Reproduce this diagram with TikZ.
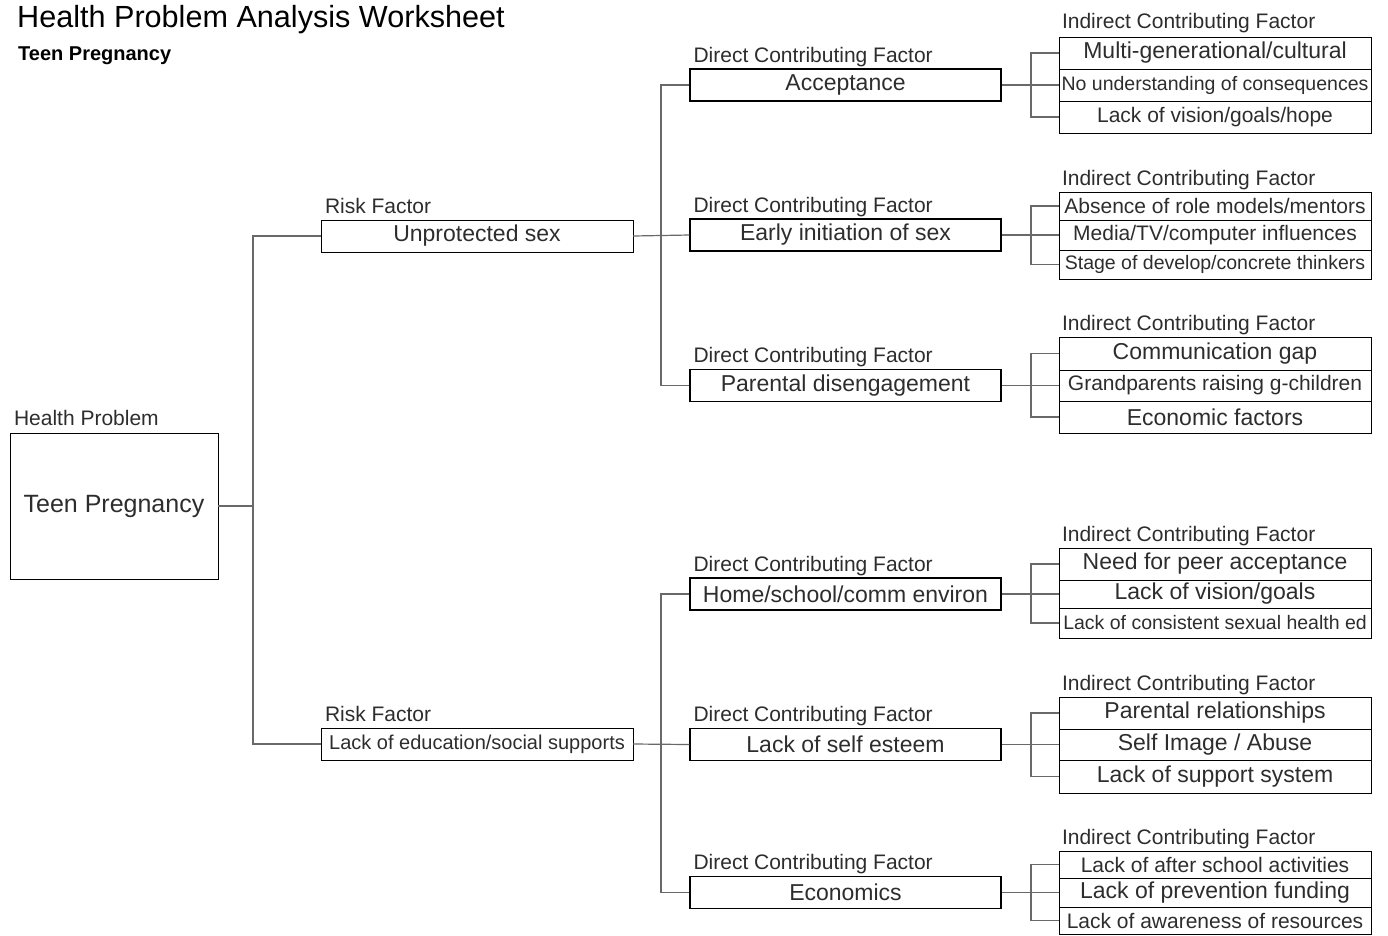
\documentclass[tikz,border=0pt]{standalone}
\usepackage{fontspec}
\setmainfont{Liberation Sans}
\usepackage{tikz}
\usetikzlibrary{positioning,calc}
\definecolor{inkgray}{RGB}{45,45,45}
\definecolor{linkgray}{RGB}{105,105,105}
\newcommand{\sizept}[1]{\fontsize{#1}{#1}\selectfont}

\begin{document}
\begin{tikzpicture}[x=1pt,y=-1pt,
  box/.style={draw,inner sep=0pt,minimum height=32pt,text=inkgray,font=\sizept{23}},
  hpbox/.style={box,minimum width=208pt,minimum height=146pt,font=\sizept{25}},
  riskbox/.style={box,minimum width=312pt},
  dirbox/.style={box,minimum width=311pt,line width=1.4pt},
  indbox/.style={box,minimum width=312pt},
  smalltext/.style={font=\sizept{21}},
  tinytext/.style={font=\sizept{19.5}},
  boxtag/.style={anchor=base west,inner sep=0pt,xshift=4pt,yshift=6pt,text=inkgray,font=\sizept{21}},
  link/.style={draw=linkgray,line width=1.2pt}
]
\useasboundingbox (0,0) rectangle (1388,935);
% title
\node[anchor=base west,inner sep=0pt,font=\sizept{30.6}] (title) at (17,27) {Health Problem Analysis Worksheet};
\node[anchor=base west,inner sep=0pt,font=\bfseries\sizept{20}] (subtitle) at (18,60) {Teen Pregnancy};

% health problem and risk factors
\node[hpbox] (hp) at (114,506) {Teen Pregnancy};
\node[riskbox] (risk1) at (477,236) {Unprotected sex};
\node[riskbox,font=\sizept{20}] (risk2) at (477,744) {Lack of education/social supports};

% direct contributing factors
\node[dirbox] (dir1) at (845.5,85) {Acceptance};
\node[dirbox] (dir2) at (845.5,235) {Early initiation of sex};
\node[dirbox] (dir3) at (845.5,385.5) {Parental disengagement};
\node[dirbox] (dir4) at (845.5,594) {Home/school/comm environ};
\node[dirbox] (dir5) at (845.5,744.5) {Lack of self esteem};
\node[dirbox] (dir6) at (845.5,892.5) {Economics};

% indirect contributing factors
\node[indbox] (ind11) at (1215,53) {Multi-generational/cultural};
\node[indbox,tinytext] (ind12) at (1215,85) {No understanding of consequences};
\node[indbox,smalltext] (ind13) at (1215,117) {Lack of vision/goals/hope};
\node[indbox,smalltext,minimum height=28pt] (ind21) at (1215,206) {Absence of role models/mentors};
\node[indbox,smalltext,minimum height=30pt] (ind22) at (1215,235) {Media/TV/computer influences};
\node[indbox,tinytext,minimum height=29pt] (ind23) at (1215,264.5) {Stage of develop/concrete thinkers};
\node[indbox,minimum height=33pt] (ind31) at (1215,353.5) {Communication gap};
\node[indbox,smalltext,minimum height=31pt] (ind32) at (1215,385.5) {Grandparents raising g-children};
\node[indbox] (ind33) at (1215,417) {Economic factors};
\node[indbox] (ind41) at (1215,564) {Need for peer acceptance};
\node[indbox,minimum height=28pt] (ind42) at (1215,594) {Lack of vision/goals};
\node[indbox,tinytext,minimum height=30pt] (ind43) at (1215,623) {Lack of consistent sexual health ed};
\node[indbox] (ind51) at (1215,713) {Parental relationships};
\node[indbox,minimum height=31pt] (ind52) at (1215,744.5) {Self Image / Abuse};
\node[indbox,minimum height=33pt] (ind53) at (1215,776.5) {Lack of support system};
\node[indbox,smalltext,minimum height=27pt] (ind61) at (1215,864.5) {Lack of after school activities};
\node[indbox,minimum height=29pt] (ind62) at (1215,892.5) {Lack of prevention funding};
\node[indbox,smalltext,minimum height=27pt] (ind63) at (1215,920.5) {Lack of awareness of resources};

% captions
\node[boxtag,yshift=1pt] (hptag) at (hp.north west) {Health Problem};
\node[boxtag] (risktag1) at (risk1.north west) {Risk Factor};
\node[boxtag] (risktag2) at (risk2.north west) {Risk Factor};
\node[boxtag] (dirtag1) at (dir1.north west) {Direct Contributing Factor};
\node[boxtag] (dirtag2) at (dir2.north west) {Direct Contributing Factor};
\node[boxtag] (dirtag3) at (dir3.north west) {Direct Contributing Factor};
\node[boxtag] (dirtag4) at (dir4.north west) {Direct Contributing Factor};
\node[boxtag] (dirtag5) at (dir5.north west) {Direct Contributing Factor};
\node[boxtag] (dirtag6) at (dir6.north west) {Direct Contributing Factor};
\node[boxtag,xshift=-1pt,yshift=2pt] (indtag1) at (ind11.north west) {Indirect Contributing Factor};
\node[boxtag,xshift=-1pt] (indtag2) at (ind21.north west) {Indirect Contributing Factor};
\node[boxtag,xshift=-1pt] (indtag3) at (ind31.north west) {Indirect Contributing Factor};
\node[boxtag,xshift=-1pt] (indtag4) at (ind41.north west) {Indirect Contributing Factor};
\node[boxtag,xshift=-1pt] (indtag5) at (ind51.north west) {Indirect Contributing Factor};
\node[boxtag,xshift=-1pt] (indtag6) at (ind61.north west) {Indirect Contributing Factor};

% junctions
\coordinate (j0) at (253,506);
\coordinate (j1) at (661,235);
\coordinate (j2) at (661,744);
\coordinate (k1) at (1031,85);
\coordinate (k2) at (1031,235);
\coordinate (k3) at (1031,385);
\coordinate (k4) at (1031,594);
\coordinate (k5) at (1031,744);
\coordinate (k6) at (1031,893);

% connectors
\draw[link] (hp.east) -- (j0);
\draw[link] (risk1.west) -| (j0) |- (risk2.west);
\draw[link] (risk1.east) -- (dir2.west);
\draw[link] (dir1.west) -| (j1) |- (dir3.west);
\draw[link] (risk2.east) -- (dir5.west);
\draw[link] (dir4.west) -| (j2) |- (dir6.west);
\draw[link] (dir1.east) -- (ind12.west);
\draw[link] (ind11.west) -| (k1) |- (ind13.west);
\draw[link] (dir2.east) -- (ind22.west);
\draw[link] (ind21.west) -| (k2) |- (ind23.west);
\draw[link] (dir3.east) -- (ind32.west);
\draw[link] (ind31.west) -| (k3) |- (ind33.west);
\draw[link] (dir4.east) -- (ind42.west);
\draw[link] (ind41.west) -| (k4) |- (ind43.west);
\draw[link] (dir5.east) -- (ind52.west);
\draw[link] (ind51.west) -| (k5) |- (ind53.west);
\draw[link] (dir6.east) -- (ind62.west);
\draw[link] (ind61.west) -| (k6) |- (ind63.west);
\end{tikzpicture}
\end{document}
